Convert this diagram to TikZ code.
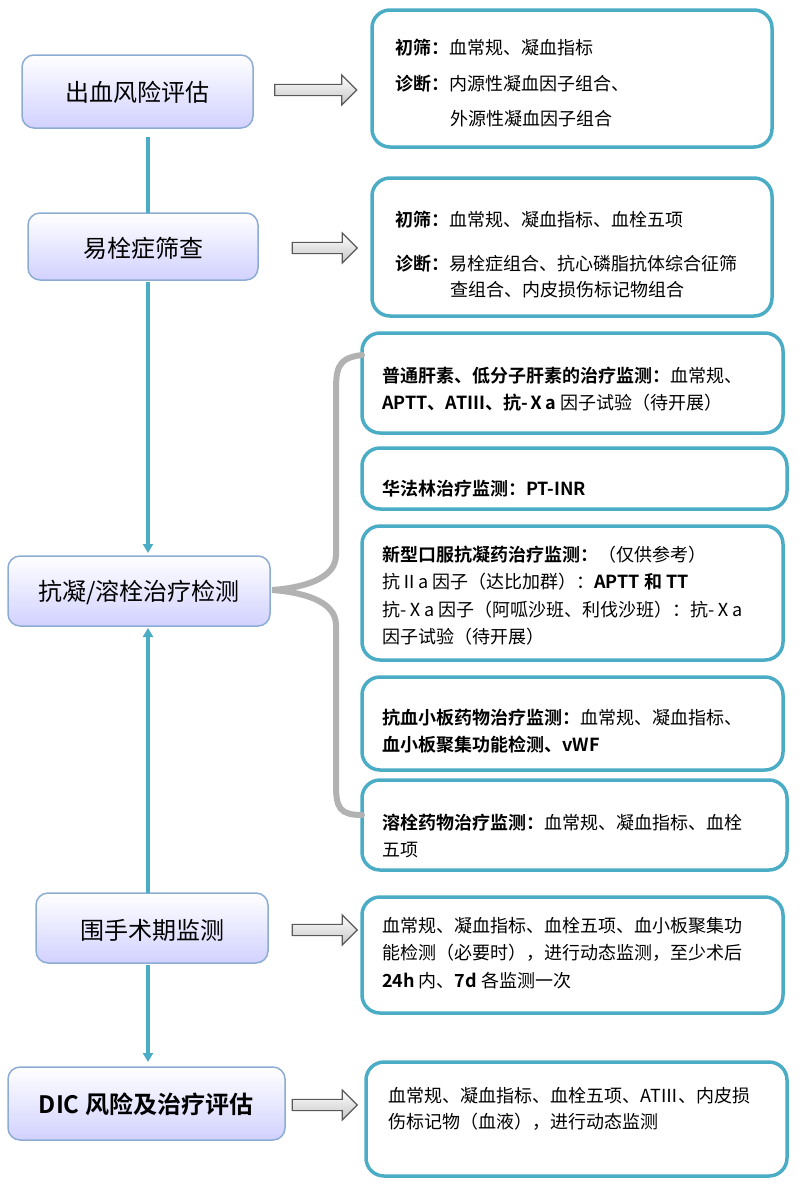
\documentclass[tikz,border=0pt]{standalone}
\usepackage{fontspec}
\setmainfont{Noto Sans CJK SC}[BoldFont={Noto Sans CJK SC Bold}]
\usetikzlibrary{shapes.arrows,arrows.meta}
\definecolor{teal}{RGB}{75,172,198}
\definecolor{lbord}{RGB}{140,172,212}
\begin{document}
\begin{tikzpicture}[x=1pt,y=-1pt,
 lbox/.style={draw=lbord,line width=1.5pt,rounded corners=12pt,top color=white,bottom color=blue!18!white},
 lfont/.style={font=\fontsize{24}{28}\selectfont},
 rbox/.style={draw=teal,line width=3.5pt,rounded corners=18pt},
 txt/.style={anchor=west,font=\fontsize{18}{21}\selectfont,inner sep=0},
 garrow/.style={single arrow,draw=gray!70!black,line width=1.2pt,top color=white,bottom color=gray!45,minimum height=82pt,minimum width=30pt,single arrow head extend=6pt,inner sep=3pt},
 conn/.style={draw=teal,line width=3.5pt},
 tip/.style={-{Triangle[length=9pt,width=10pt]}}]
\useasboundingbox (0,0) rectangle (800,1184);
% left boxes
\path[lbox] (22,55) rectangle (253,128); \node[lfont] (b1) at (137,92) {出血风险评估};
\path[lbox] (28,213) rectangle (258,280); \node[lfont] (b2) at (143,248) {易栓症筛查};
\path[lbox] (8,556) rectangle (270,626); \node[lfont] (b3) at (139,592) {抗凝/溶栓治疗检测};
\path[lbox] (36,893) rectangle (268,963); \node[lfont] (b4) at (152,930) {围手术期监测};
\path[lbox] (8,1067) rectangle (285,1140); \node[font=\bfseries\fontsize{24}{28}\selectfont] (b5) at (146,1104) {DIC 风险及治疗评估};
\coordinate (c1) at (148,137); \coordinate (c2) at (148,213);
\coordinate (c3) at (148,282); \coordinate (c4) at (148,553);
\coordinate (c5) at (148,893); \coordinate (c6) at (148,628);
\coordinate (c7) at (148,965); \coordinate (c8) at (148,1062);
\draw[conn] (c1) -- (c2);
\draw[conn,tip,teal] (c3) -- (c4);
\draw[conn,tip,teal] (c5) -- (c6);
\draw[conn,tip,teal] (c7) -- (c8);
% arrows
\node[garrow] (a1) at (313,90) {};
\node[garrow,minimum height=65pt] (a2) at (322,248) {};
\node[garrow,minimum height=65pt] (a4) at (322,930) {};
\node[garrow,minimum height=65pt] (a5) at (322,1105) {};
% right boxes
\draw[rbox] (372,10) rectangle (772,147);
\draw[rbox] (372,178) rectangle (772,316);
\draw[rbox] (362,333) rectangle (783,433);
\draw[rbox] (362,448) rectangle (787,509);
\draw[rbox] (362,526) rectangle (783,660);
\draw[rbox] (362,677) rectangle (783,770);
\draw[rbox] (362,780) rectangle (787,870);
\draw[rbox] (362,897) rectangle (783,1013);
\draw[rbox] (366,1062) rectangle (787,1176);
% brace
\draw[gray!60,line width=6pt,line cap=round] (362,355) .. controls (336,358) and (336,370) .. (336,395) -- (336,555) .. controls (336,580) and (300,588) .. (272,590) .. controls (300,592) and (336,600) .. (336,625) -- (336,785) .. controls (336,808) and (340,815) .. (362,815);
% texts
\node[txt] (t1) at (395,48) {\textbf{初筛：}血常规、凝血指标};
\node[txt] (t2) at (395,84) {\textbf{诊断：}内源性凝血因子组合、};
\node[txt] (t3) at (450,119) {外源性凝血因子组合};
\node[txt] (t4) at (395,220) {\textbf{初筛：}血常规、凝血指标、血栓五项};
\node[txt] (t5) at (395,264) {\textbf{诊断：}易栓症组合、抗心磷脂抗体综合征筛};
\node[txt] (t6) at (450,290) {查组合、内皮损伤标记物组合};
\node[txt] (t7) at (382,376) {\textbf{普通肝素、低分子肝素的治疗监测：}血常规、};
\node[txt] (t8) at (382,403) {\textbf{APTT、ATⅢ、抗-Ⅹa} 因子试验（待开展）};
\node[txt] (t9) at (382,489) {\textbf{华法林治疗监测：PT-INR}};
\node[txt] (t10) at (382,555) {\textbf{新型口服抗凝药治疗监测：}（仅供参考）};
\node[txt] (t11) at (382,582) {抗Ⅱa 因子（达比加群）：\textbf{APTT 和 TT}};
\node[txt] (t12) at (382,610) {抗-Ⅹa 因子（阿呱沙班、利伐沙班）：抗-Ⅹa};
\node[txt] (t13) at (382,637) {因子试验（待开展）};
\node[txt] (t14) at (382,718) {\textbf{抗血小板药物治疗监测：}血常规、凝血指标、};
\node[txt] (t15) at (382,745) {\textbf{血小板聚集功能检测、vWF}};
\node[txt] (t16) at (382,823) {\textbf{溶栓药物治疗监测：}血常规、凝血指标、血栓};
\node[txt] (t17) at (382,850) {五项};
\node[txt] (t18) at (382,926) {血常规、凝血指标、血栓五项、血小板聚集功};
\node[txt] (t19) at (382,953) {能检测（必要时），进行动态监测，至少术后};
\node[txt] (t20) at (382,981) {\textbf{24h} 内、\textbf{7d} 各监测一次};
\node[txt] (t21) at (388,1096) {血常规、凝血指标、血栓五项、ATⅢ、内皮损};
\node[txt] (t22) at (388,1122) {伤标记物（血液），进行动态监测};
\end{tikzpicture}
\end{document}
